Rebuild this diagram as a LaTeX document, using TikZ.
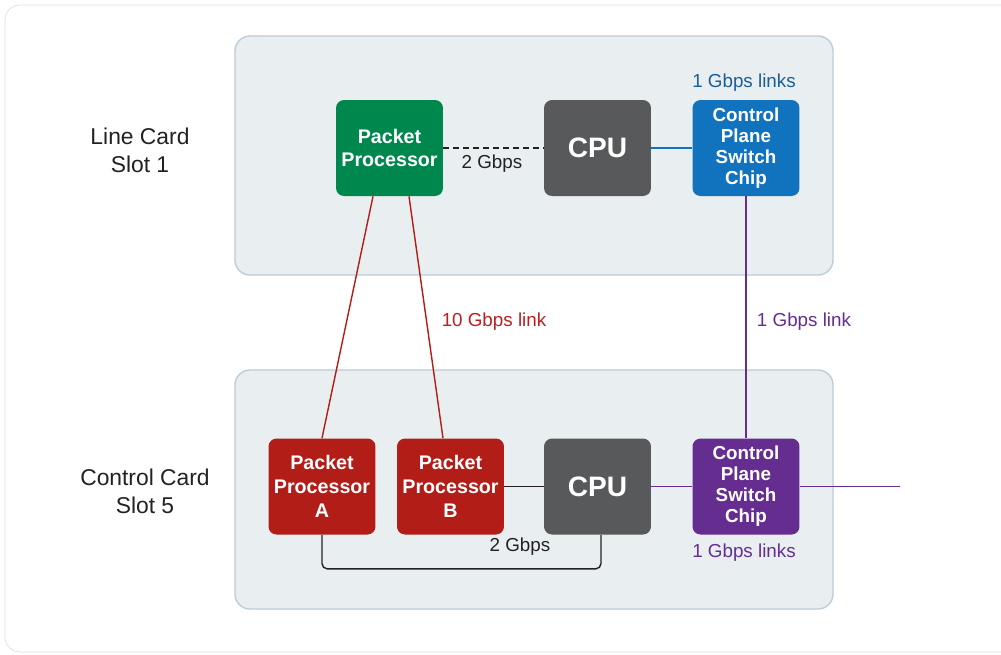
\documentclass[tikz,border=0pt]{standalone}
\usepackage{fontspec}
\setmainfont{Liberation Sans}
\definecolor{ppgreen}{RGB}{0,135,78}
\definecolor{cpugray}{RGB}{88,89,91}
\definecolor{chipblue}{RGB}{17,114,190}
\definecolor{ppred}{RGB}{178,29,24}
\definecolor{chippurple}{RGB}{102,45,145}
\definecolor{panelfill}{RGB}{233,238,241}
\definecolor{panelline}{RGB}{190,204,216}
\definecolor{labelblue}{RGB}{27,94,150}
\definecolor{labelred}{RGB}{190,30,30}
\definecolor{textgray}{RGB}{34,34,34}
\tikzset{
  chip/.style={rounded corners=0.16cm, minimum width=2.14cm, minimum height=1.92cm,
    inner sep=0pt, align=center, text=white, font=\bfseries\fontsize{11.2}{13.6}\selectfont},
  cpubox/.style={chip, fill=cpugray, font=\bfseries\fontsize{16}{18}\selectfont},
  switchbox/.style={chip, font=\bfseries\fontsize{10.7}{12}\selectfont},
  panel/.style={draw=panelline, fill=panelfill, line width=0.8pt, rounded corners=0.3cm},
  caption/.style={text=textgray, align=center, font=\fontsize{13}{16}\selectfont},
  linklabel/.style={font=\fontsize{10.7}{13}\selectfont}
}
\begin{document}
\begin{tikzpicture}[x=0.02cm, y=-0.02cm]
  \useasboundingbox (0,0) rectangle (1001,654);
  \draw [gray!25, fill=white, rounded corners=0.3cm] (5,5) rectangle (1015,652);
  \draw [panel] (235,36) rectangle (833,275);
  \draw [panel] (235,370) rectangle (833,609);

  \node [caption] (lc) at (140,150) {Line Card\\Slot 1};
  \node [caption] (cc) at (145,491) {Control Card\\Slot 5};

  \node [chip, fill=ppgreen] (pp) at (389.5,148) {Packet\\Processor};
  \node [cpubox] (cpuT) at (597.5,148) {CPU};
  \node [switchbox, fill=chipblue] (swT) at (746,148) {Control\\Plane\\Switch\\Chip};

  \node [chip, fill=ppred] (ppA) at (322,486.5) {Packet\\Processor\\A};
  \node [chip, fill=ppred] (ppB) at (450.5,486.5) {Packet\\Processor\\B};
  \node [cpubox] (cpuB) at (597.5,486.5) {CPU};
  \node [switchbox, fill=chippurple] (swB) at (746,486.5) {Control\\Plane\\Switch\\Chip};
  \coordinate (out) at (900,486.5);

  \draw [dash pattern=on 3.4pt off 2.3pt, line width=0.8pt, textgray] (pp) -- (cpuT);
  \draw [chipblue, line width=0.8pt] (cpuT) -- (swT);
  \draw [ppred, line width=0.8pt] ([xshift=-0.33cm]pp.south) -- (ppA.north);
  \draw [ppred, line width=0.8pt] ([xshift=0.39cm]pp.south) -- ([xshift=-0.15cm]ppB.north);
  \draw [chippurple, line width=0.8pt] (swT) -- (swB);
  \draw [textgray, line width=0.8pt] (ppB) -- (cpuB);
  \draw [chippurple, line width=0.8pt] (cpuB) -- (swB) -- (out);
  \draw [textgray, line width=0.8pt, rounded corners=3pt] (ppA.south) -- ++(0,34) -| ([xshift=0.07cm]cpuB.south);

  \node [linklabel, labelblue] (lblT) at (744,83) {1 Gbps links};
  \node [linklabel, textgray] (gbT) at (492,164) {2 Gbps};
  \node [linklabel, labelred] (lbl10) at (494,322) {10 Gbps link};
  \node [linklabel, chippurple] (lbl1) at (804,322) {1 Gbps link};
  \node [linklabel, textgray] (gbB) at (520,547) {2 Gbps};
  \node [linklabel, chippurple] (lblB) at (744,553) {1 Gbps links};
\end{tikzpicture}
\end{document}
